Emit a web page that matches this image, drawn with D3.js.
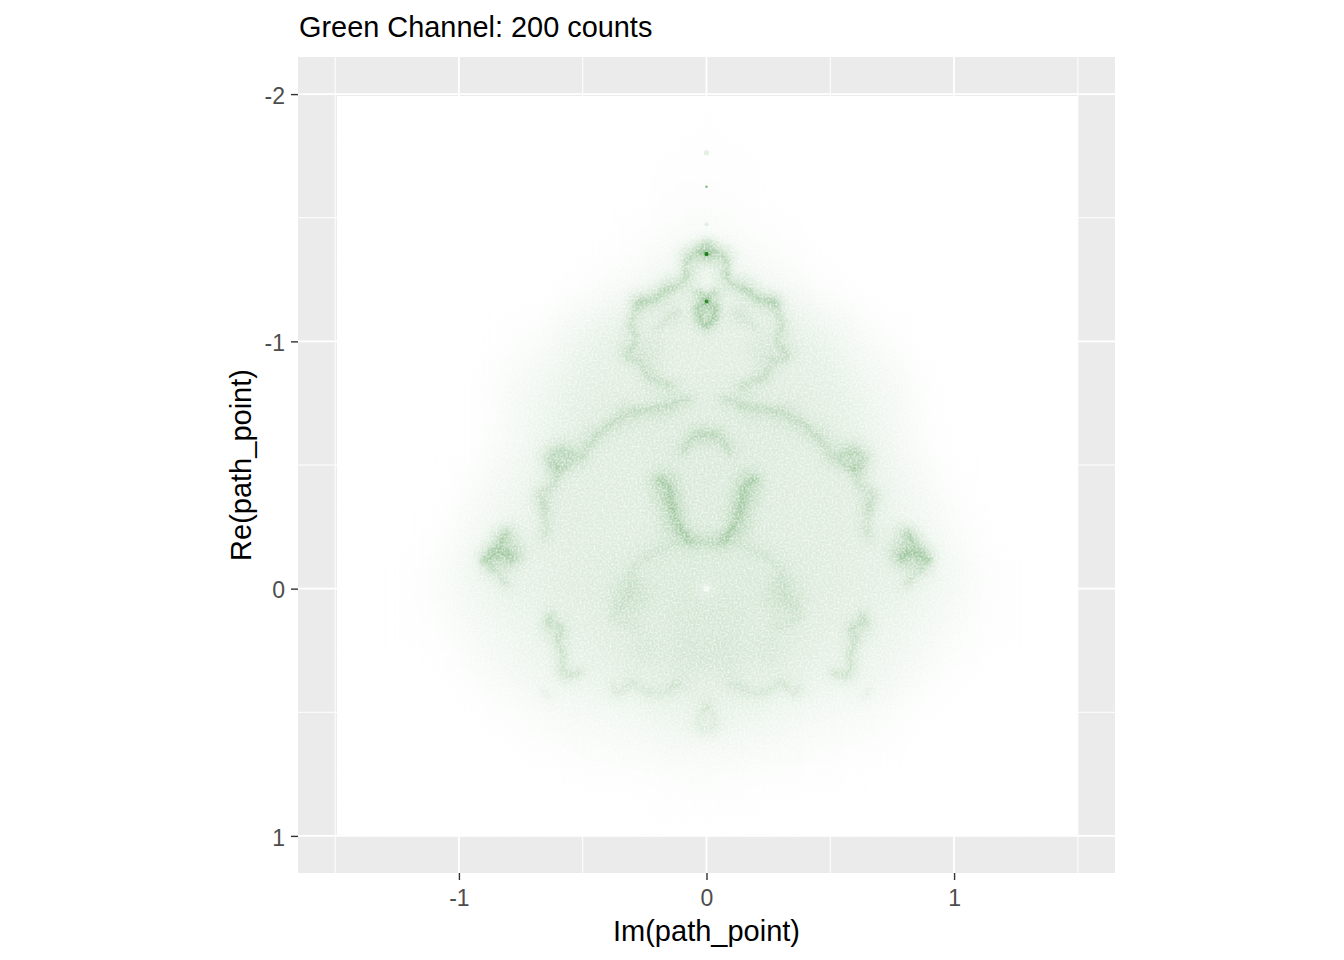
<!DOCTYPE html>
<html lang="en">
<head>
<meta charset="utf-8">
<script src="https://d3js.org/d3.v7.min.js"></script>
<style>
    html, body { margin: 0; padding: 0; background: #fff; }
    text { font-family: "Liberation Sans", Arial, sans-serif; }
    .tick-axis path { display: none; }
    .tick-axis line { stroke: #333; stroke-width: 1.4; }
    .tick-axis text { fill: #4d4d4d; font-size: 23px; }
</style>
</head>
<body>
<script>
    var titleText = "Green Channel: 200 counts";
    var xTitle = "Im(path_point)";
    var yTitle = "Re(path_point)";

    var xMajor = [-1, 0, 1];
    var xMinor = [-1.5, -0.5, 0.5, 1.5];
    var yMajor = [-2, -1, 0, 1];
    var yMinor = [-1.5, -0.5, 0.5];

    // coarse count level, im = 0, 0.1, 0.2 ... (mirrored for im < 0)
    var gridRe = [-1.9, -1.8, -1.7, -1.6, -1.5, -1.4, -1.3, -1.2, -1.1, -1.0, -0.9, -0.8, -0.7, -0.6, -0.5,
        -0.4, -0.3, -0.2, -0.1, 0, 0.1, 0.2, 0.3, 0.4, 0.5, 0.6, 0.7, 0.8, 0.9, 1.0];
    var gridLevels = [
        [.2, .1],
        [.3, .2, .1],
        [.5, .4, .2, .1],
        [.7, .5, .3, .15],
        [1, .8, .5, .25, .1],
        [2, 1.8, 1, .6, .3, .1],
        [3.5, 3.5, 2.2, 1.2, .6, .2],
        [5, 5, 4.5, 3, 1.7, .8, .3, .1],
        [6, 6, 6, 5.5, 4, 2.5, 1.2, .5, .2],
        [6.5, 6.5, 6.5, 6.5, 6, 4.5, 2.5, 1, .4, .1],
        [6.5, 6.5, 6.5, 6.5, 6, 5.5, 3.5, 2.2, 1, .3],
        [7, 7, 7, 6.5, 6.5, 6, 4.5, 3, 1.8, .4, .1],
        [7.5, 7.5, 7.5, 7.5, 7, 6.5, 5, 3.5, 1.8, .5, .1],
        [8, 8, 8, 7.5, 7, 7, 6, 4, 2, .6, .1],
        [8, 8, 7.5, 7, 7, 7, 6.5, 4.5, 2.8, 1.2, .3],
        [8, 8, 7.5, 7, 7, 7, 6.5, 5, 3.2, 1.8, .6, .1],
        [8, 8, 7.5, 7, 7, 7, 6.5, 5.5, 4, 2.5, 1, .2],
        [8.5, 8.5, 8, 7, 7, 7, 6.5, 6, 5, 3.5, 1.6, .5, .1],
        [8.5, 8.5, 8, 8, 7.5, 7, 6.5, 6, 5.5, 4.5, 2.4, .8, .2],
        [8.5, 8.5, 8.5, 8.5, 7.5, 7, 6.5, 6, 5, 4, 2.4, 1.1, .3],
        [8, 8, 8, 8, 7, 6.5, 6, 5, 4.5, 3.2, 2, .9, .3],
        [8, 8, 8, 8, 7, 6, 5.5, 4.5, 3.5, 2.4, 1.2, .5, .2],
        [8, 8, 7.5, 7, 6, 5, 4.5, 4, 2.8, 1.6, .7, .3, .1],
        [6.5, 6.5, 6, 5, 4.5, 4, 3.5, 3, 1.6, .8, .3, .1],
        [5, 5, 4.5, 3.5, 3, 2.5, 2, 1.6, .8, .3, .1],
        [3, 3, 2.5, 2, 1.6, 1.3, 1, .6, .3, .1],
        [1.5, 1.5, 1.2, 1, .8, .6, .4, .2, .1],
        [.8, .7, .5, .4, .3, .2, .1],
        [.3, .3, .2, .1],
        [.1, .1]
    ];

    // bright filaments as [im, re], right half only
    var topRing = [[0, -1.4], [.014, -1.395], [.02, -1.38], [.014, -1.365], [0, -1.36]];
    var crownRidge = [[0, -1.36], [.031, -1.359], [.065, -1.345], [.082, -1.309], [.075, -1.275], [.092, -1.242],
        [.132, -1.222], [.186, -1.188], [.233, -1.168], [.28, -1.154]];
    var bulbRidge = [[.28, -1.154], [.3, -1.08], [.285, -.993], [.326, -.939], [.27, -.92], [.245, -.87], [.15, -.82]];
    var bulbInner = [[.117, -1.114], [.16, -1.09], [.21, -1.05]];
    var heartRidge = [[.03, -1.195], [.002, -1.161], [.035, -1.135], [.04, -1.115], [.02, -1.08], [0, -1.068]];
    var mainRidge = [[.07, -.77], [.16, -.735], [.245, -.723], [.366, -.683], [.447, -.609], [.514, -.528],
        [.568, -.555], [.629, -.541], [.622, -.488], [.541, -.508]];
    var sideRidge = [[.6, -.5], [.609, -.44], [.663, -.38], [.649, -.292], [.656, -.211]];
    var tipRidge = [[.784, -.124], [.84, -.145], [.898, -.11], [.852, -.158], [.811, -.225]];
    var tipLowRidge = [[.898, -.11], [.852, -.077], [.811, -.016]];
    var forkRidge = [[0, -.622], [.043, -.622], [.07, -.589], [.09, -.55]];
    var forkLowRidge = [[.19, -.44], [.151, -.413], [.144, -.333], [.11, -.252], [.07, -.198]];
    var innerArc = [[0, -.19], [.07, -.191], [.137, -.178], [.218, -.144], [.299, -.077], [.306, .018], [.38, .112], [.287, .152]];
    var lowerRidge = [[.63, .098], [.644, .146], [.59, .152], [.6, .22], [.576, .273], [.583, .314], [.57, .347], [.509, .341]];
    var lowerInner = [[.374, .395], [.347, .422], [.307, .381], [.213, .422], [.105, .381]];
    var lowerOuter = [[.664, .408], [.63, .448]];
    var bottomTip = [[0, .475], [.038, .543], [0, .57]];
    var ridges = [topRing, crownRidge, bulbRidge, bulbInner, heartRidge, mainRidge, sideRidge, tipRidge, tipLowRidge, forkRidge,
        forkLowRidge, innerArc, lowerRidge, lowerInner, lowerOuter, bottomTip];
    var ridgeWeights = [.32, .26, .15, .08, .36, .14, .14, .24, .13, .16, .24, .07, .18, .09, .06, .07];
    var ridgeWidths = [2, 4, 4, 3, 3, 5, 4, 5, 4, 4, 6, 3, 3.5, 3.5, 3, 3];

    // soft patches [im, re, radius in px, alpha]
    var patchIm = [.07, .25, .31, .08, .8, .58, .66, .16, .22, .14];
    var patchRe = [.26, .25, .03, .12, -.15, -.53, -.37, -.36, -.96, -1.1];
    var patchSize = [20, 14, 20, 22, 16, 12, 9, 14, 12, 9];
    var patchAlpha = [.035, .035, .07, .025, .14, .1, .08, .12, .08, .08];

    // sharp dots [im, re, radius in px, alpha]
    var dotIm = [0, 0, 0, 0, 0];
    var dotRe = [-1.763, -1.625, -1.474, -1.353, -1.161];
    var dotSize = [2.6, 1.3, 2, 2.1, 2];
    var dotAlpha = [.1, .5, .1, .95, .8];

    var svg = d3.select("body").append("svg")
        .attr("width", 1344)
        .attr("height", 960)
        .style("display", "block");

    var left = 298, right = 1115, top_ = 57, bottom = 873;

    var x = d3.scaleLinear().domain([-1.65, 1.65]).range([left, right]);
    var y = d3.scaleLinear().domain([-2.15, 1.15]).range([top_, bottom]);
    var level = d3.scaleLinear().domain([0, 10]).range(["#ffffff", "#cfe4cf"]);

    var defs = svg.append("defs");
    function addFilter(id) {
        return defs.append("filter").attr("id", id)
            .attr("filterUnits", "userSpaceOnUse")
            .attr("x", 0).attr("y", 0).attr("width", 1344).attr("height", 960)
            .attr("color-interpolation-filters", "sRGB");
    }
    addFilter("blurWide").append("feGaussianBlur").attr("stdDeviation", 13);
    addFilter("blurPatch").append("feGaussianBlur").attr("stdDeviation", 7);
    addFilter("blurDot").append("feGaussianBlur").attr("stdDeviation", .7);

    // filaments wander a little and are soft-edged
    var wobble = addFilter("ridgeCore");
    wobble.append("feTurbulence").attr("type", "fractalNoise").attr("baseFrequency", .09)
        .attr("numOctaves", 2).attr("seed", 7).attr("result", "n");
    wobble.append("feDisplacementMap").attr("in", "SourceGraphic").attr("in2", "n").attr("scale", 10)
        .attr("xChannelSelector", "R").attr("yChannelSelector", "G");
    wobble.append("feGaussianBlur").attr("stdDeviation", 2);

    var halo = addFilter("ridgeHalo");
    halo.append("feTurbulence").attr("type", "fractalNoise").attr("baseFrequency", .05)
        .attr("numOctaves", 2).attr("seed", 11).attr("result", "n");
    halo.append("feDisplacementMap").attr("in", "SourceGraphic").attr("in2", "n").attr("scale", 18)
        .attr("xChannelSelector", "R").attr("yChannelSelector", "G");
    halo.append("feGaussianBlur").attr("stdDeviation", 6);

    // white speckle so the density looks grainy instead of airbrushed
    var grain = addFilter("grain");
    grain.append("feTurbulence").attr("type", "fractalNoise").attr("baseFrequency", .5)
        .attr("numOctaves", 2).attr("seed", 4);
    grain.append("feColorMatrix").attr("type", "matrix")
        .attr("values", "0 0 0 0 1  0 0 0 0 1  0 0 0 0 1  1.5 0 0 0 -.55");

    var rasterX0 = x(-1.5) + 1.7, rasterX1 = x(1.5);
    var rasterY0 = y(-2) + 2, rasterY1 = y(1) - 1;

    defs.append("clipPath").attr("id", "rasterClip").append("rect")
        .attr("x", rasterX0).attr("y", rasterY0)
        .attr("width", rasterX1 - rasterX0).attr("height", rasterY1 - rasterY0);

    // panel
    svg.append("rect").attr("x", left).attr("y", top_)
        .attr("width", right - left).attr("height", bottom - top_).attr("fill", "#ebebeb");

    var grid = svg.append("g");
    function vLines(vals, w) {
        grid.selectAll(null).data(vals).enter().append("line")
            .attr("x1", x).attr("x2", x).attr("y1", top_).attr("y2", bottom)
            .attr("stroke", "#fff").attr("stroke-width", w);
    }
    function hLines(vals, w) {
        grid.selectAll(null).data(vals).enter().append("line")
            .attr("y1", y).attr("y2", y).attr("x1", left).attr("x2", right)
            .attr("stroke", "#fff").attr("stroke-width", w);
    }
    vLines(xMinor, 1); hLines(yMinor, 1);
    vLines(xMajor, 1.8); hLines(yMajor, 1.8);

    // raster
    var raster = svg.append("g").attr("clip-path", "url(#rasterClip)");
    raster.append("rect").attr("x", rasterX0).attr("y", rasterY0)
        .attr("width", rasterX1 - rasterX0).attr("height", rasterY1 - rasterY0).attr("fill", "#fff");

    var cells = [];
    gridLevels.forEach(function (row, i) {
        row.forEach(function (v, j) {
            cells.push({im: j / 10, re: gridRe[i], v: v});
            if (j > 0) cells.push({im: -j / 10, re: gridRe[i], v: v});
        });
    });
    var cw = x(0.1) - x(0), ch = y(0.1) - y(0);
    raster.append("g").attr("filter", "url(#blurWide)")
        .selectAll("rect").data(cells).enter().append("rect")
        .attr("x", function (d) { return x(d.im) - cw / 2; })
        .attr("y", function (d) { return y(d.re) - ch / 2; })
        .attr("width", cw + .5)
        .attr("height", ch + .5)
        .attr("fill", function (d) { return level(d.v); });

    var line = d3.line().curve(d3.curveCatmullRom.alpha(.5))
        .x(function (d) { return x(d[0]); })
        .y(function (d) { return y(d[1]); });

    // right half is drawn once, the left half is the same group flipped
    [1, -1].forEach(function (s) {
        var side = raster.append("g")
            .attr("transform", "translate(" + (x(0) * (1 - s)) + ",0) scale(" + s + ",1)");

        side.append("g").attr("filter", "url(#blurPatch)")
            .selectAll("circle").data(patchIm).enter().append("circle")
            .attr("cx", function (d) { return x(d); })
            .attr("cy", function (d, i) { return y(patchRe[i]); })
            .attr("r", function (d, i) { return patchSize[i]; })
            .attr("fill", "#3f8f3f")
            .attr("fill-opacity", function (d, i) { return patchAlpha[i]; });

        side.append("g").attr("filter", "url(#ridgeHalo)")
            .selectAll("path").data(ridges).enter().append("path")
            .attr("d", line)
            .attr("fill", "none")
            .attr("stroke", "#3f8f3f")
            .attr("stroke-linecap", "round")
            .attr("stroke-opacity", function (d, i) { return ridgeWeights[i] * .75; })
            .attr("stroke-width", function (d, i) { return ridgeWidths[i] * 3.5; });

        side.append("g").attr("filter", "url(#ridgeCore)")
            .selectAll("path").data(ridges).enter().append("path")
            .attr("d", line)
            .attr("fill", "none")
            .attr("stroke", "#3f8f3f")
            .attr("stroke-linecap", "round")
            .attr("stroke-opacity", function (d, i) { return ridgeWeights[i]; })
            .attr("stroke-width", function (d, i) { return ridgeWidths[i]; });
    });

    // the hole in the middle
    raster.append("circle").attr("cx", x(0)).attr("cy", y(0)).attr("r", 3)
        .attr("fill", "#fff").attr("filter", "url(#blurDot)").attr("fill-opacity", .6);
    raster.append("circle").attr("cx", x(0)).attr("cy", y(0)).attr("r", 6)
        .attr("fill", "#fff").attr("filter", "url(#blurPatch)").attr("fill-opacity", .7);

    raster.append("rect").attr("x", rasterX0).attr("y", rasterY0)
        .attr("width", rasterX1 - rasterX0).attr("height", rasterY1 - rasterY0)
        .attr("filter", "url(#grain)");

    raster.append("g").attr("filter", "url(#blurDot)")
        .selectAll("circle").data(dotIm).enter().append("circle")
        .attr("cx", function (d) { return x(d); })
        .attr("cy", function (d, i) { return y(dotRe[i]); })
        .attr("r", function (d, i) { return dotSize[i]; })
        .attr("fill", "#157a15")
        .attr("fill-opacity", function (d, i) { return dotAlpha[i]; });

    // axes
    var yAxisG = svg.append("g").attr("class", "tick-axis")
        .attr("transform", "translate(" + left + ",0)")
        .call(d3.axisLeft(y).tickValues(yMajor).tickSize(7).tickPadding(6).tickFormat(function (d) { return String(d); }));
    yAxisG.selectAll("text").attr("dy", "0.4em");
    svg.append("g").attr("class", "tick-axis")
        .attr("transform", "translate(0," + bottom + ")")
        .call(d3.axisBottom(x).tickValues(xMajor).tickSize(7).tickPadding(10).tickFormat(function (d) { return String(d); }));

    svg.append("text").attr("x", 299).attr("y", 37).attr("font-size", 28.9).attr("fill", "#000").text(titleText);
    svg.append("text").attr("x", x(0)).attr("y", 941).attr("font-size", 29)
        .attr("text-anchor", "middle").attr("fill", "#000").text(xTitle);
    svg.append("text").attr("transform", "translate(251,465) rotate(-90)")
        .attr("font-size", 29).attr("text-anchor", "middle").attr("fill", "#000").text(yTitle);
</script>
</body>
</html>
